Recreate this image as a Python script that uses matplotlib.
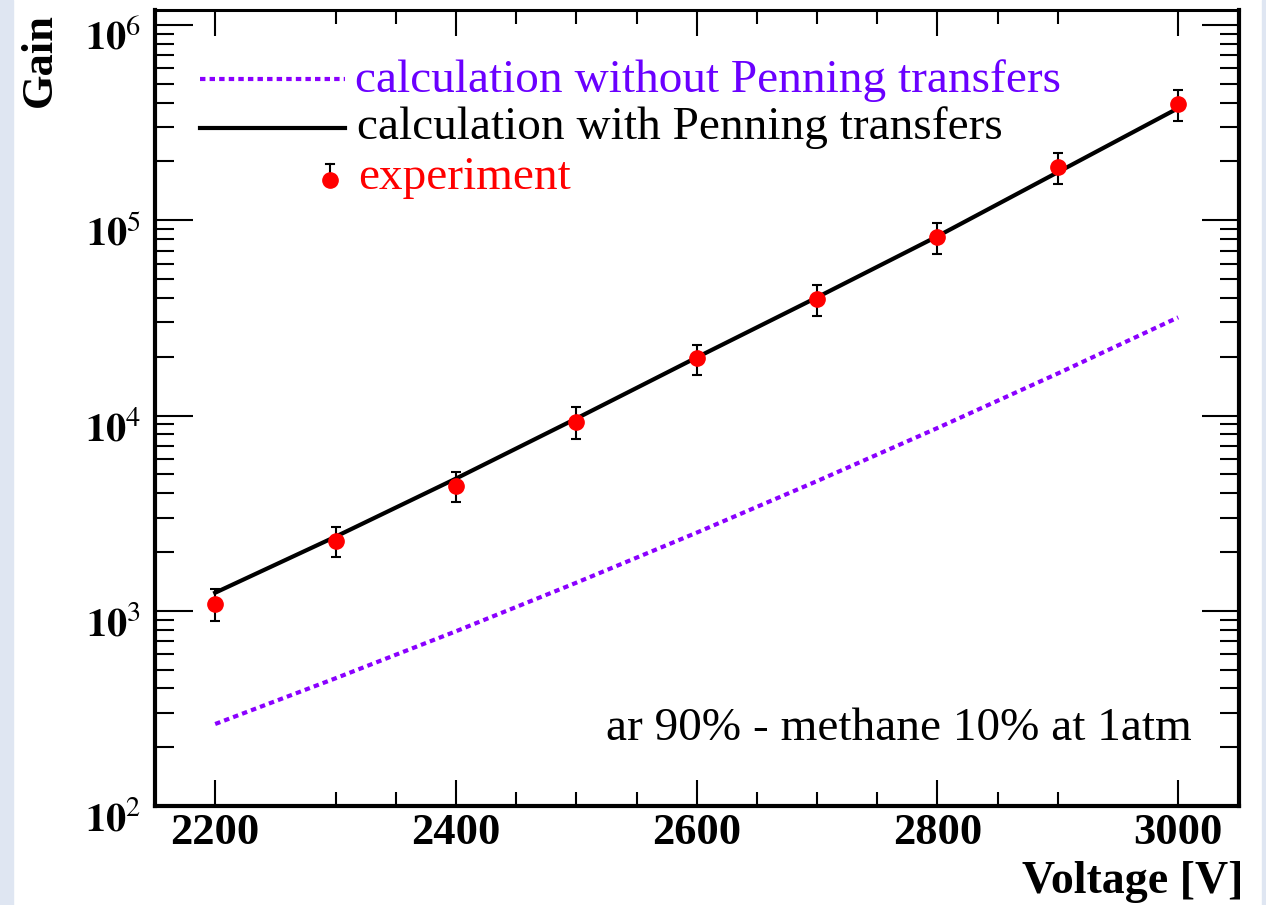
import numpy as np
import matplotlib
matplotlib.use("Agg")
import matplotlib.pyplot as plt
from matplotlib.lines import Line2D
from matplotlib.patches import Rectangle
from matplotlib.ticker import FixedLocator, NullFormatter, FuncFormatter, LogLocator
from matplotlib.transforms import ScaledTranslation

# Gas gain versus anode voltage, Ar 90% / CH4 10% at 1 atm
voltage = [2200, 2300, 2400, 2500, 2600, 2700, 2800, 2900, 3000]
gain_no_penning = [263, 451, 785, 1392, 2512, 4615, 8630, 16420, 31820]
gain_penning = [1237, 2396, 4753, 9652, 19830, 40290, 82800, 176300, 375300]
gain_exp = [1086, 2286, 4375, 9311, 19600, 39350, 81800, 187000, 393700]
gain_exp_err = [200, 410, 790, 1700, 3500, 7100, 15000, 34000, 71000]

x_major = [2200, 2400, 2600, 2800, 3000]
x_minor = [2300, 2350, 2450, 2500, 2550, 2650, 2700, 2750, 2850, 2900]
y_major = [1e2, 1e3, 1e4, 1e5, 1e6]

legend_labels = ["calculation without Penning transfers",
                 "calculation with Penning transfers",
                 "experiment"]
gas_label = "ar 90% - methane 10% at 1atm"

VIOLET_LINE = "#8a00ff"
VIOLET_TEXT = "#6a00ff"

plt.rcParams["font.family"] = ["Liberation Serif", "DejaVu Serif"]
plt.rcParams["mathtext.fontset"] = "stix"

W, H = 1266, 905
fig = plt.figure(figsize=(W / 100, H / 100), dpi=100)
fig.patch.set_facecolor("white")

# pale side bands of the page
fig.patches.append(Rectangle((0, 0), 13 / W, 1, transform=fig.transFigure,
                             color="#dfe6f2", zorder=0))
fig.patches.append(Rectangle((1262 / W, 0), 4 / W, 1, transform=fig.transFigure,
                             color="#dfe6f2", zorder=0))

ax_l, ax_r, ax_t, ax_b = 155, 1239, 10, 806
ax = fig.add_axes([ax_l / W, 1 - ax_b / H, (ax_r - ax_l) / W, (ax_b - ax_t) / H])

ax.set_yscale("log")
ax.set_xlim(2150, 3050.5)
ax.set_ylim(100, 10 ** (6 + 15 / 195))

# curves
ax.plot(voltage, gain_no_penning, color=VIOLET_LINE, lw=3,
        linestyle=(0, (1.3, 1.0)), zorder=3)
ax.plot(voltage, gain_penning, color="black", lw=3, zorder=3)
ax.errorbar(voltage, gain_exp, yerr=gain_exp_err, fmt="o", color="red",
            ms=11, mec="red", ecolor="black", elinewidth=1.5, capsize=3.5,
            capthick=1.5, zorder=4)

# axes frame and ticks
for side in ["left", "bottom", "right"]:
    ax.spines[side].set_linewidth(3)
ax.spines["top"].set_linewidth(2.2)

ax.xaxis.set_major_locator(FixedLocator(x_major))
ax.xaxis.set_minor_locator(FixedLocator(x_minor))
ax.xaxis.set_minor_formatter(NullFormatter())
ax.yaxis.set_major_locator(FixedLocator(y_major))
ax.yaxis.set_minor_locator(LogLocator(base=10, subs=np.arange(2, 10)))
ax.yaxis.set_minor_formatter(NullFormatter())
ax.xaxis.set_major_formatter(FuncFormatter(lambda v, _: f"{int(round(v))}"))
ax.yaxis.set_major_formatter(
    FuncFormatter(lambda v, _: r"$\mathbf{10}^{\mathrm{%d}}$" % int(round(np.log10(v)))))

ax.tick_params(axis="both", which="both", direction="in", top=True, right=True,
               colors="black")
ax.tick_params(axis="x", which="major", length=19, width=1.5, pad=5,
               labelsize=32)
ax.tick_params(axis="x", which="minor", length=10, width=1.5)
ax.tick_params(axis="y", which="major", length=27, width=1.5, pad=10,
               labelsize=29)
ax.tick_params(axis="y", which="minor", length=14, width=1.5)
for lab in ax.get_xticklabels():
    lab.set_fontweight("bold")
shift = ScaledTranslation(0, -10 / 100, fig.dpi_scale_trans)
for lab in ax.get_yticklabels():
    lab.set_transform(lab.get_transform() + shift)

# axis titles
fig.text(40 / W, 1 - 13 / H, "Gain", rotation=90, ha="center", va="top",
         fontsize=32, fontweight="bold")
fig.text(1243 / W, 1 - 893 / H, "Voltage [V]", ha="right", va="baseline",
         fontsize=33, fontweight="bold")

# legend
def fx(px):
    return (px - ax_l) / (ax_r - ax_l)

def fy(py):
    return (ax_b - py) / (ax_b - ax_t)

ax.add_line(Line2D([fx(200), fx(345)], [fy(79), fy(79)], transform=ax.transAxes,
                   color=VIOLET_LINE, lw=3, linestyle=(0, (1.3, 1.0))))
ax.add_line(Line2D([fx(200), fx(345)], [fy(128), fy(128)], transform=ax.transAxes,
                   color="black", lw=3))
ax.add_line(Line2D([fx(330), fx(330)], [fy(164), fy(180)], transform=ax.transAxes,
                   color="black", lw=1.5))
ax.add_line(Line2D([fx(326), fx(334)], [fy(164), fy(164)], transform=ax.transAxes,
                   color="black", lw=1.5))
ax.add_line(Line2D([fx(330)], [fy(180)], transform=ax.transAxes, marker="o",
                   ms=11, color="red", mec="red", ls="none"))
ax.text(fx(355), fy(92), legend_labels[0], transform=ax.transAxes,
        color=VIOLET_TEXT, fontsize=34, ha="left", va="baseline")
ax.text(fx(357), fy(139), legend_labels[1], transform=ax.transAxes,
        color="black", fontsize=34, ha="left", va="baseline")
ax.text(fx(358), fy(189), legend_labels[2], transform=ax.transAxes,
        color="red", fontsize=34, ha="left", va="baseline")

ax.text(fx(1192), fy(740), gas_label, transform=ax.transAxes,
        color="black", fontsize=34, ha="right", va="baseline")

fig.savefig("out.png", dpi=100, facecolor=fig.get_facecolor())
